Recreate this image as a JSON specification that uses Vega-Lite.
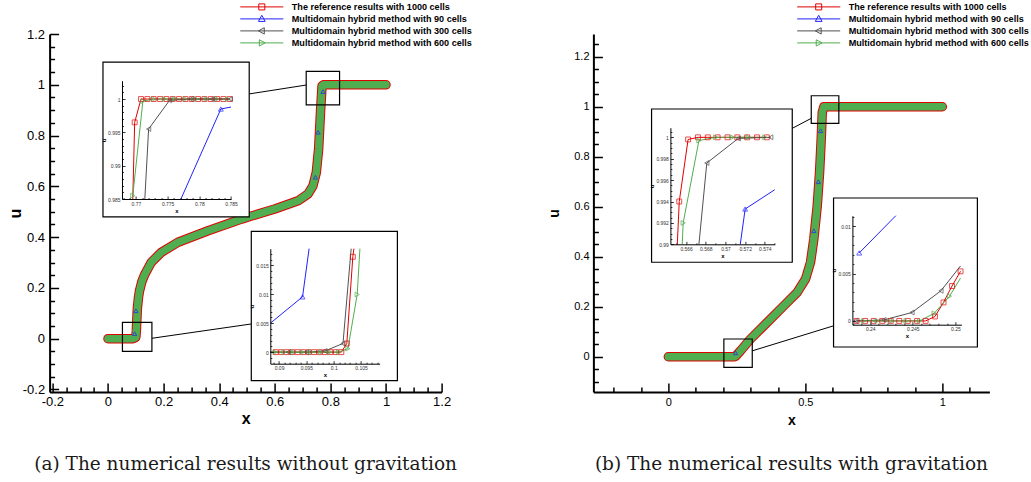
{
 "$schema": "https://vega.github.io/schema/vega-lite/v6.json",
 "padding": {"left": 6.6, "top": 1, "right": 0, "bottom": 0},
 "bounds": "flush",
 "spacing": 151.8,
 "resolve": {"scale": {"color": "independent", "shape": "independent"}},
 "config": {
  "view": {"stroke": null},
  "font": "Liberation Sans",
  "axis": {"grid": false, "domainColor": "black", "tickColor": "black", "labelColor": "black", "titleColor": "black", "labelFont": "Liberation Sans", "titleFont": "Liberation Sans"}
 },
 "datasets": {
  "mainA": [
   {"x": 0, "u": 0}, {"x": 0.05, "u": 0}, {"x": 0.09, "u": 0}, {"x": 0.1, "u": 0.005}, {"x": 0.102, "u": 0.03},
   {"x": 0.1055, "u": 0.117}, {"x": 0.11, "u": 0.165}, {"x": 0.1137, "u": 0.19}, {"x": 0.122, "u": 0.225},
   {"x": 0.1317, "u": 0.252}, {"x": 0.1558, "u": 0.301}, {"x": 0.1918, "u": 0.34}, {"x": 0.252, "u": 0.38},
   {"x": 0.36, "u": 0.425}, {"x": 0.48, "u": 0.471}, {"x": 0.6, "u": 0.511}, {"x": 0.6835, "u": 0.543},
   {"x": 0.7195, "u": 0.57}, {"x": 0.7375, "u": 0.6025}, {"x": 0.7494, "u": 0.655}, {"x": 0.7577, "u": 0.747},
   {"x": 0.765, "u": 0.905}, {"x": 0.77, "u": 0.996}, {"x": 0.775, "u": 1}, {"x": 0.9, "u": 1}, {"x": 1, "u": 1}
  ],
  "blueA": [
   {"x": 0.0958, "u": 0.02}, {"x": 0.1005, "u": 0.11}, {"x": 0.746, "u": 0.636}, {"x": 0.7555, "u": 0.813}, {"x": 0.7735, "u": 0.973}
  ],
  "boxesA": [
   {"x": 0.052, "x2": 0.158, "u": -0.05, "u2": 0.0645},
   {"x": 0.713, "x2": 0.833, "u": 0.921, "u2": 1.053}
  ],
  "linksA": [
   {"x": 0.508, "x2": 0.713, "u": 0.964, "u2": 0.999},
   {"x": 0.158, "x2": 0.5155, "u": 0.0016, "u2": 0.058}
  ],
  "framesA": [
   {"x": -0.018, "x2": 0.508, "u": 0.48, "u2": 1.089},
   {"x": 0.5155, "x2": 1.041, "u": -0.165, "u2": 0.423}
  ],
  "mainB": [
   {"x": 0, "u": 0}, {"x": 0.1, "u": 0}, {"x": 0.2, "u": 0}, {"x": 0.24, "u": 0}, {"x": 0.2454, "u": 0.002},
   {"x": 0.2636, "u": 0.024}, {"x": 0.2999, "u": 0.071}, {"x": 0.361, "u": 0.1376}, {"x": 0.4216, "u": 0.204},
   {"x": 0.4705, "u": 0.2576}, {"x": 0.5008, "u": 0.311}, {"x": 0.519, "u": 0.378}, {"x": 0.531, "u": 0.4708},
   {"x": 0.5435, "u": 0.604}, {"x": 0.552, "u": 0.7376}, {"x": 0.558, "u": 0.871}, {"x": 0.5618, "u": 0.9776},
   {"x": 0.5676, "u": 1.0}, {"x": 0.6, "u": 1}, {"x": 0.8, "u": 1}, {"x": 1, "u": 1}
  ],
  "blueB": [
   {"x": 0.2454, "u": 0.0156}, {"x": 0.531, "u": 0.504}, {"x": 0.5476, "u": 0.7}, {"x": 0.5556, "u": 0.904}
  ],
  "boxesB": [
   {"x": 0.2027, "x2": 0.3063, "u": -0.0424, "u2": 0.071},
   {"x": 0.5216, "x2": 0.6223, "u": 0.9336, "u2": 1.044}
  ],
  "linksB": [
   {"x": 0.4523, "x2": 0.5216, "u": 0.9136, "u2": 0.9536},
   {"x": 0.3063, "x2": 0.604, "u": 0.0236, "u2": 0.124}
  ],
  "framesB": [
   {"x": -0.0612, "x2": 0.4523, "u": 0.378, "u2": 0.991},
   {"x": 0.603, "x2": 1.128, "u": 0.039, "u2": 0.635}
  ],
  "LU": [
   {"s": "r1000", "x": 0.7695, "u": 0.985, "p": false}, {"s": "r1000", "x": 0.7698, "u": 0.9965, "p": true},
   {"s": "r1000", "x": 0.7708, "u": 1.0, "p": true}, {"s": "r1000", "x": 0.7718, "u": 1, "p": true},
   {"s": "r1000", "x": 0.7728, "u": 1, "p": true}, {"s": "r1000", "x": 0.7738, "u": 1, "p": true},
   {"s": "r1000", "x": 0.7748, "u": 1, "p": true}, {"s": "r1000", "x": 0.7758, "u": 1, "p": true},
   {"s": "r1000", "x": 0.7768, "u": 1, "p": true}, {"s": "r1000", "x": 0.7778, "u": 1, "p": true},
   {"s": "r1000", "x": 0.7788, "u": 1, "p": true}, {"s": "r1000", "x": 0.7798, "u": 1, "p": true},
   {"s": "r1000", "x": 0.7808, "u": 1, "p": true}, {"s": "r1000", "x": 0.7818, "u": 1, "p": true},
   {"s": "r1000", "x": 0.7828, "u": 1, "p": true}, {"s": "r1000", "x": 0.7838, "u": 1, "p": true},
   {"s": "r1000", "x": 0.7848, "u": 1, "p": true},
   {"s": "h600", "x": 0.7695, "u": 0.9855, "p": true}, {"s": "h600", "x": 0.7711, "u": 0.9997, "p": true},
   {"s": "h600", "x": 0.7728, "u": 1, "p": true}, {"s": "h600", "x": 0.7745, "u": 1, "p": true},
   {"s": "h600", "x": 0.7761, "u": 1, "p": true}, {"s": "h600", "x": 0.7778, "u": 1, "p": true},
   {"s": "h600", "x": 0.7795, "u": 1, "p": true}, {"s": "h600", "x": 0.7811, "u": 1, "p": true},
   {"s": "h600", "x": 0.7828, "u": 1, "p": true}, {"s": "h600", "x": 0.7845, "u": 1, "p": true},
   {"s": "h300", "x": 0.7714, "u": 0.985, "p": false}, {"s": "h300", "x": 0.772, "u": 0.9955, "p": true},
   {"s": "h300", "x": 0.7753, "u": 0.9998, "p": true}, {"s": "h300", "x": 0.7787, "u": 1, "p": true},
   {"s": "h300", "x": 0.782, "u": 1, "p": true}, {"s": "h300", "x": 0.7849, "u": 1, "p": true},
   {"s": "h90", "x": 0.7771, "u": 0.985, "p": false}, {"s": "h90", "x": 0.7834, "u": 0.9985, "p": true},
   {"s": "h90", "x": 0.785, "u": 0.9988, "p": false}
  ],
  "LL": [
   {"s": "h90", "x": 0.0884, "u": 0.005, "p": false}, {"s": "h90", "x": 0.0943, "u": 0.00957, "p": true},
   {"s": "h90", "x": 0.0955, "u": 0.0179, "p": false},
   {"s": "r1000", "x": 0.0884, "u": 0, "p": false}, {"s": "r1000", "x": 0.0894, "u": 0, "p": true},
   {"s": "r1000", "x": 0.0904, "u": 0, "p": true}, {"s": "r1000", "x": 0.0914, "u": 0, "p": true},
   {"s": "r1000", "x": 0.0924, "u": 0, "p": true}, {"s": "r1000", "x": 0.0934, "u": 0, "p": true},
   {"s": "r1000", "x": 0.0944, "u": 0, "p": true}, {"s": "r1000", "x": 0.0954, "u": 0, "p": true},
   {"s": "r1000", "x": 0.0964, "u": 0, "p": true}, {"s": "r1000", "x": 0.0974, "u": 0, "p": true},
   {"s": "r1000", "x": 0.0984, "u": 0, "p": true}, {"s": "r1000", "x": 0.0994, "u": 0, "p": true},
   {"s": "r1000", "x": 0.1004, "u": 0, "p": true}, {"s": "r1000", "x": 0.1014, "u": 0, "p": true},
   {"s": "r1000", "x": 0.1024, "u": 0.0015, "p": true}, {"s": "r1000", "x": 0.1035, "u": 0.0165, "p": true},
   {"s": "r1000", "x": 0.1037, "u": 0.0179, "p": false},
   {"s": "h300", "x": 0.0884, "u": 0, "p": false}, {"s": "h300", "x": 0.0917, "u": 0, "p": true},
   {"s": "h300", "x": 0.095, "u": 0, "p": true}, {"s": "h300", "x": 0.0984, "u": 0.0002, "p": true},
   {"s": "h300", "x": 0.1017, "u": 0.0015, "p": true}, {"s": "h300", "x": 0.1032, "u": 0.0179, "p": false},
   {"s": "h600", "x": 0.0884, "u": 0, "p": false}, {"s": "h600", "x": 0.0893, "u": 0, "p": true},
   {"s": "h600", "x": 0.0909, "u": 0, "p": true}, {"s": "h600", "x": 0.0926, "u": 0, "p": true},
   {"s": "h600", "x": 0.0943, "u": 0, "p": true}, {"s": "h600", "x": 0.0959, "u": 0, "p": true},
   {"s": "h600", "x": 0.0976, "u": 0, "p": true}, {"s": "h600", "x": 0.0993, "u": 0, "p": true},
   {"s": "h600", "x": 0.1009, "u": 0, "p": true}, {"s": "h600", "x": 0.1026, "u": 0.0006, "p": true},
   {"s": "h600", "x": 0.1043, "u": 0.00997, "p": true}, {"s": "h600", "x": 0.1048, "u": 0.0179, "p": false}
  ],
  "RU": [
   {"s": "r1000", "x": 0.5651, "u": 0.99, "p": false}, {"s": "r1000", "x": 0.5653, "u": 0.994, "p": true},
   {"s": "r1000", "x": 0.5662, "u": 0.9998, "p": true}, {"s": "r1000", "x": 0.5672, "u": 1, "p": true},
   {"s": "r1000", "x": 0.5682, "u": 1, "p": true}, {"s": "r1000", "x": 0.5692, "u": 1, "p": true},
   {"s": "r1000", "x": 0.5702, "u": 1, "p": true}, {"s": "r1000", "x": 0.5712, "u": 1, "p": true},
   {"s": "r1000", "x": 0.5722, "u": 1, "p": true}, {"s": "r1000", "x": 0.5732, "u": 1, "p": true},
   {"s": "r1000", "x": 0.5742, "u": 1, "p": true},
   {"s": "h600", "x": 0.5656, "u": 0.99, "p": false}, {"s": "h600", "x": 0.5657, "u": 0.992, "p": true},
   {"s": "h600", "x": 0.5673, "u": 0.9997, "p": true}, {"s": "h600", "x": 0.569, "u": 1, "p": true},
   {"s": "h600", "x": 0.5707, "u": 1, "p": true}, {"s": "h600", "x": 0.5723, "u": 1, "p": true},
   {"s": "h600", "x": 0.574, "u": 1, "p": true},
   {"s": "h300", "x": 0.5673, "u": 0.99, "p": false}, {"s": "h300", "x": 0.5681, "u": 0.9976, "p": true},
   {"s": "h300", "x": 0.5713, "u": 0.9999, "p": true}, {"s": "h300", "x": 0.5746, "u": 1, "p": true},
   {"s": "h90", "x": 0.5715, "u": 0.99, "p": false}, {"s": "h90", "x": 0.572, "u": 0.9933, "p": true},
   {"s": "h90", "x": 0.575, "u": 0.9951, "p": false}
  ],
  "RL": [
   {"s": "h90", "x": 0.2387, "u": 0.00717, "p": true}, {"s": "h90", "x": 0.243, "u": 0.0111, "p": false},
   {"s": "r1000", "x": 0.2384, "u": 0, "p": true}, {"s": "r1000", "x": 0.2394, "u": 0, "p": true},
   {"s": "r1000", "x": 0.2404, "u": 0, "p": true}, {"s": "r1000", "x": 0.2414, "u": 0, "p": true},
   {"s": "r1000", "x": 0.2424, "u": 0, "p": true}, {"s": "r1000", "x": 0.2434, "u": 0, "p": true},
   {"s": "r1000", "x": 0.2444, "u": 0, "p": true}, {"s": "r1000", "x": 0.2455, "u": 0, "p": true},
   {"s": "r1000", "x": 0.2465, "u": 0, "p": true}, {"s": "r1000", "x": 0.2476, "u": 0.00047, "p": true},
   {"s": "r1000", "x": 0.2486, "u": 0.00195, "p": true}, {"s": "r1000", "x": 0.2496, "u": 0.00368, "p": true},
   {"s": "r1000", "x": 0.2506, "u": 0.00523, "p": true},
   {"s": "h300", "x": 0.2383, "u": 0, "p": true}, {"s": "h300", "x": 0.2416, "u": 0.0001, "p": true},
   {"s": "h300", "x": 0.2449, "u": 0.00089, "p": true}, {"s": "h300", "x": 0.2483, "u": 0.00318, "p": true},
   {"s": "h300", "x": 0.2506, "u": 0.0058, "p": false},
   {"s": "h600", "x": 0.2392, "u": 0, "p": true}, {"s": "h600", "x": 0.2408, "u": 0, "p": true},
   {"s": "h600", "x": 0.2425, "u": 0, "p": true}, {"s": "h600", "x": 0.2442, "u": 0, "p": true},
   {"s": "h600", "x": 0.2458, "u": 0, "p": true}, {"s": "h600", "x": 0.2475, "u": 0.0008, "p": true},
   {"s": "h600", "x": 0.2493, "u": 0.0026, "p": true}, {"s": "h600", "x": 0.2506, "u": 0.00452, "p": false}
  ],
  "series": [{"s": "r1000"}, {"s": "h90"}, {"s": "h300"}, {"s": "h600"}]
 },
 "hconcat": [
  {
   "width": 392,
   "height": 358,
   "title": {"text": "(a) The numerical results without gravitation", "orient": "bottom", "anchor": "middle", "frame": "group", "font": "DejaVu Serif", "fontSize": 18.5, "fontWeight": "normal", "color": "#1a1a1a", "offset": 28},
   "resolve": {"scale": {"x": "independent", "y": "independent", "color": "independent", "shape": "independent"}},
   "layer": [
    {
     "resolve": {"axis": {"x": "independent", "y": "independent"}},
     "layer": [
      {"data": {"name": "mainA"}, "mark": {"type": "line", "color": "#e00000", "strokeWidth": 9.5, "strokeCap": "round", "strokeJoin": "round"},
       "encoding": {
        "x": {"field": "x", "type": "quantitative", "scale": {"domain": [-0.21, 1.2], "nice": false, "zero": false},
         "axis": {"orient": "bottom", "values": [-0.2,0,0.2,0.4,0.6,0.8,1,1.2], "labelExpr": "toString(round(datum.value*10)/10)",
          "tickSize": -9, "labelFontSize": 13, "labelPadding": 13, "labelFlush": false, "labelOverlap": false, "labelBound": false,
          "title": "x", "titleFontSize": 16, "titleFontWeight": "bold", "titlePadding": 2, "domainWidth": 2, "tickWidth": 1.5}},
        "y": {"field": "u", "type": "quantitative", "scale": {"domain": [-0.21, 1.2], "nice": false, "zero": false},
         "axis": {"orient": "left", "values": [-0.2,0,0.2,0.4,0.6,0.8,1,1.2], "labelExpr": "toString(round(datum.value*10)/10)",
          "tickSize": -9, "labelFontSize": 13, "labelPadding": 14, "labelFlush": false, "labelOverlap": false, "labelBound": false,
          "title": "u", "titleFontSize": 16, "titleFontWeight": "bold", "titlePadding": -1.2, "domainWidth": 2, "tickWidth": 1.5}}
       }},
      {"data": {"name": "mainA"}, "mark": {"type": "line", "color": "#50ad50", "strokeWidth": 7.5, "strokeCap": "round", "strokeJoin": "round"},
       "encoding": {
        "x": {"field": "x", "type": "quantitative", "axis": {"orient": "bottom", "values": [-0.15,-0.1,-0.05,0.05,0.1,0.15,0.25,0.3,0.35,0.45,0.5,0.55,0.65,0.7,0.75,0.85,0.9,0.95,1.05,1.1,1.15], "labels": false, "domain": false, "tickSize": -5, "tickWidth": 1.5, "title": null}},
        "y": {"field": "u", "type": "quantitative", "axis": {"orient": "left", "values": [-0.15,-0.1,-0.05,0.05,0.1,0.15,0.25,0.3,0.35,0.45,0.5,0.55,0.65,0.7,0.75,0.85,0.9,0.95,1.05,1.1,1.15], "labels": false, "domain": false, "tickSize": -5, "tickWidth": 1.5, "title": null}}
       }},
      {"data": {"name": "blueA"}, "mark": {"type": "point", "shape": "triangle-up", "color": "#2020ff", "size": 18, "filled": false, "strokeWidth": 1},
       "encoding": {"x": {"field": "x", "type": "quantitative", "axis": null}, "y": {"field": "u", "type": "quantitative", "axis": null}}},
      {"data": {"name": "boxesA"}, "mark": {"type": "rect", "fill": "white", "fillOpacity": 0, "stroke": "black", "strokeWidth": 1.2},
       "encoding": {"x": {"field": "x", "type": "quantitative", "axis": null}, "x2": {"field": "x2"}, "y": {"field": "u", "type": "quantitative", "axis": null}, "y2": {"field": "u2"}}},
      {"data": {"name": "linksA"}, "mark": {"type": "rule", "color": "black", "strokeWidth": 1},
       "encoding": {"x": {"field": "x", "type": "quantitative", "axis": null}, "x2": {"field": "x2"}, "y": {"field": "u", "type": "quantitative", "axis": null}, "y2": {"field": "u2"}}},
      {"data": {"name": "framesA"}, "mark": {"type": "rect", "fill": "white", "stroke": "black", "strokeWidth": 1.2},
       "encoding": {"x": {"field": "x", "type": "quantitative", "axis": null}, "x2": {"field": "x2"}, "y": {"field": "u", "type": "quantitative", "axis": null}, "y2": {"field": "u2"}}}
     ]
    },
    {
     "data": {"name": "LU"},
     "resolve": {"axis": {"x": "independent", "y": "independent"}},
     "layer": [
      {"mark": {"type": "line", "strokeWidth": 1},
       "encoding": {
        "x": {"field": "x", "type": "quantitative", "scale": {"domain": [0.7678, 0.785], "range": [72.4, 181.4], "nice": false, "zero": false},
         "axis": {"orient": "bottom", "offset": -193, "values": [0.77,0.775,0.78,0.785], "labelExpr": "toString(round(datum.value*1000)/1000)",
          "tickSize": -3, "labelFontSize": 5, "labelPadding": 5, "labelFlush": false, "labelOverlap": false, "labelColor": "#333333",
          "title": "x", "titleFontSize": 6, "titlePadding": 1, "zindex": 1, "domainWidth": 1, "tickWidth": 0.8}},
        "y": {"field": "u", "type": "quantitative", "scale": {"domain": [0.985, 1.00275], "range": [165, 46.7], "nice": false, "zero": false},
         "axis": {"orient": "left", "offset": -72.4, "values": [0.985,0.99,0.995,1], "labelExpr": "toString(round(datum.value*1000)/1000)",
          "tickSize": -3, "labelFontSize": 5, "labelPadding": 5, "labelFlush": false, "labelOverlap": false, "labelColor": "#333333",
          "title": "u", "titleFontSize": 6, "titlePadding": 1, "zindex": 1, "domainWidth": 1, "tickWidth": 0.8}},
        "color": {"field": "s", "type": "nominal", "scale": {"domain": ["r1000", "h90", "h300", "h600"], "range": ["#e00000", "#2020ff", "#505050", "#50ad50"]}, "legend": null}
       }},
      {"transform": [{"filter": "datum.p"}],
       "mark": {"type": "point", "filled": false, "size": 24, "strokeWidth": 1},
       "encoding": {
        "x": {"field": "x", "type": "quantitative", "axis": {"orient": "bottom", "offset": -193, "values": [0.768,0.769,0.771,0.772,0.773,0.774,0.776,0.777,0.778,0.779,0.781,0.782,0.783,0.784], "labels": false, "domain": false, "tickSize": -1.5, "tickWidth": 0.8, "title": null, "zindex": 1}},
        "y": {"field": "u", "type": "quantitative", "axis": {"orient": "left", "offset": -72.4, "values": [0.986,0.987,0.988,0.989,0.991,0.992,0.993,0.994,0.996,0.997,0.998,0.999,1.001,1.002], "labels": false, "domain": false, "tickSize": -1.5, "tickWidth": 0.8, "title": null, "zindex": 1}},
        "color": {"field": "s", "type": "nominal", "legend": null},
        "shape": {"field": "s", "type": "nominal", "scale": {"domain": ["r1000", "h90", "h300", "h600"], "range": ["square", "triangle-up", "triangle-left", "triangle-right"]}, "legend": null}
       }}
     ]
    },
    {
     "data": {"name": "LL"},
     "resolve": {"axis": {"x": "independent", "y": "independent"}},
     "layer": [
      {"mark": {"type": "line", "strokeWidth": 1},
       "encoding": {
        "x": {"field": "x", "type": "quantitative", "scale": {"domain": [0.0884, 0.1084], "range": [220.7, 330], "nice": false, "zero": false},
         "axis": {"orient": "bottom", "offset": -28.3, "values": [0.09,0.095,0.1,0.105], "labelExpr": "toString(round(datum.value*1000)/1000)",
          "tickSize": -3, "labelFontSize": 5, "labelPadding": 5, "labelFlush": false, "labelOverlap": false, "labelColor": "#333333",
          "title": "x", "titleFontSize": 6, "titlePadding": 1, "zindex": 1, "domainWidth": 1, "tickWidth": 0.8}},
        "y": {"field": "u", "type": "quantitative", "scale": {"domain": [-0.002, 0.0179], "range": [329.7, 214.7], "nice": false, "zero": false},
         "axis": {"orient": "left", "offset": -220.7, "values": [0,0.005,0.01,0.015], "labelExpr": "toString(round(datum.value*1000)/1000)",
          "tickSize": -3, "labelFontSize": 5, "labelPadding": 5, "labelFlush": false, "labelOverlap": false, "labelColor": "#333333",
          "title": "u", "titleFontSize": 6, "titlePadding": 1, "zindex": 1, "domainWidth": 1, "tickWidth": 0.8}},
        "color": {"field": "s", "type": "nominal", "scale": {"domain": ["r1000", "h90", "h300", "h600"], "range": ["#e00000", "#2020ff", "#505050", "#50ad50"]}, "legend": null}
       }},
      {"transform": [{"filter": "datum.p"}],
       "mark": {"type": "point", "filled": false, "size": 24, "strokeWidth": 1},
       "encoding": {
        "x": {"field": "x", "type": "quantitative", "axis": {"orient": "bottom", "offset": -28.3, "values": [0.089,0.091,0.092,0.093,0.094,0.096,0.097,0.098,0.099,0.101,0.102,0.103,0.104,0.106,0.107,0.108], "labels": false, "domain": false, "tickSize": -1.5, "tickWidth": 0.8, "title": null, "zindex": 1}},
        "y": {"field": "u", "type": "quantitative", "axis": {"orient": "left", "offset": -220.7, "values": [-0.001,0.001,0.002,0.003,0.004,0.006,0.007,0.008,0.009,0.011,0.012,0.013,0.014,0.016,0.017], "labels": false, "domain": false, "tickSize": -1.5, "tickWidth": 0.8, "title": null, "zindex": 1}},
        "color": {"field": "s", "type": "nominal", "legend": null},
        "shape": {"field": "s", "type": "nominal", "scale": {"domain": ["r1000", "h90", "h300", "h600"], "range": ["square", "triangle-up", "triangle-left", "triangle-right"]}, "legend": null}
       }}
     ]
    },
    {
     "data": {"name": "series"},
     "mark": {"type": "point", "filled": false, "opacity": 0},
     "encoding": {
      "color": {"field": "s", "type": "nominal", "scale": {"domain": ["r1000", "h90", "h300", "h600"], "range": ["#e00000", "#2020ff", "#505050", "#50ad50"]},
       "legend": {"orient": "none", "legendX": 207.2, "legendY": -32.1, "title": null, "labelExpr": "datum.value=='r1000' ? 'The reference results with 1000 cells' : datum.value=='h90' ? 'Multidomain hybrid method with 90 cells' : datum.value=='h300' ? 'Multidomain hybrid method with 300 cells' : 'Multidomain hybrid method with 600 cells'", "labelFont": "Liberation Sans", "labelFontSize": 9.1, "labelFontWeight": "bold", "labelColor": "black", "labelLimit": 400, "labelOffset": 25, "symbolSize": 81, "symbolStrokeWidth": 1, "symbolOpacity": 1, "rowPadding": 0, "padding": 0}},
      "shape": {"field": "s", "type": "nominal", "scale": {"domain": ["r1000", "h90", "h300", "h600"], "range": ["M-4.78,0H4.78M-0.67,-0.67H0.67V0.67H-0.67Z", "M-4.78,0H4.78M0,-0.8L0.75,0.55H-0.75Z", "M-4.78,0H4.78M-0.75,0L0.55,-0.7V0.7Z", "M-4.78,0H4.78M0.75,0L-0.55,-0.7V0.7Z"]},
       "legend": {"orient": "none", "legendX": 207.2, "legendY": -32.1, "title": null, "labelExpr": "datum.value=='r1000' ? 'The reference results with 1000 cells' : datum.value=='h90' ? 'Multidomain hybrid method with 90 cells' : datum.value=='h300' ? 'Multidomain hybrid method with 300 cells' : 'Multidomain hybrid method with 600 cells'", "labelFont": "Liberation Sans", "labelFontSize": 9.1, "labelFontWeight": "bold", "labelColor": "black", "labelLimit": 400, "labelOffset": 25, "symbolSize": 81, "symbolStrokeWidth": 1, "symbolOpacity": 1, "rowPadding": 0, "padding": 0}}
     }
    }
   ]
  },
  {
   "width": 396,
   "height": 358,
   "title": {"text": "(b) The numerical results with gravitation", "orient": "bottom", "anchor": "middle", "frame": "group", "font": "DejaVu Serif", "fontSize": 18.5, "fontWeight": "normal", "color": "#1a1a1a", "offset": 28},
   "resolve": {"scale": {"x": "independent", "y": "independent", "color": "independent", "shape": "independent"}},
   "layer": [
    {
     "resolve": {"axis": {"x": "independent", "y": "independent"}},
     "layer": [
      {"data": {"name": "mainB"}, "mark": {"type": "line", "color": "#e00000", "strokeWidth": 9.5, "strokeCap": "round", "strokeJoin": "round"},
       "encoding": {
        "x": {"field": "x", "type": "quantitative", "scale": {"domain": [-0.2735, 1.1718], "nice": false, "zero": false},
         "axis": {"orient": "bottom", "values": [0,0.5,1], "labelExpr": "toString(round(datum.value*10)/10)",
          "tickSize": -9, "labelFontSize": 11, "labelPadding": 13.5, "labelFlush": false, "labelOverlap": false, "labelBound": false,
          "title": "x", "titleFontSize": 14, "titleFontWeight": "bold", "titlePadding": 6, "domainWidth": 2, "tickWidth": 1.5}},
        "y": {"field": "u", "type": "quantitative", "scale": {"domain": [-0.141, 1.291], "nice": false, "zero": false},
         "axis": {"orient": "left", "values": [0,0.2,0.4,0.6,0.8,1,1.2], "labelExpr": "toString(round(datum.value*10)/10)",
          "tickSize": -9, "labelFontSize": 11, "labelPadding": 13.4, "labelFlush": false, "labelOverlap": false, "labelBound": false,
          "title": "u", "titleFontSize": 14, "titleFontWeight": "bold", "titlePadding": 11.8, "domainWidth": 2, "tickWidth": 1.5}}
       }},
      {"data": {"name": "mainB"}, "mark": {"type": "line", "color": "#50ad50", "strokeWidth": 7.5, "strokeCap": "round", "strokeJoin": "round"},
       "encoding": {
        "x": {"field": "x", "type": "quantitative", "axis": {"orient": "bottom", "values": [-0.2,-0.1,0.1,0.2,0.3,0.4,0.6,0.7,0.8,0.9,1.1], "labels": false, "domain": false, "tickSize": -5, "tickWidth": 1.5, "title": null}},
        "y": {"field": "u", "type": "quantitative", "axis": {"orient": "left", "values": [-0.1,-0.05,0.05,0.1,0.15,0.25,0.3,0.35,0.45,0.5,0.55,0.65,0.7,0.75,0.85,0.9,0.95,1.05,1.1,1.15,1.25], "labels": false, "domain": false, "tickSize": -5, "tickWidth": 1.5, "title": null}}
       }},
      {"data": {"name": "blueB"}, "mark": {"type": "point", "shape": "triangle-up", "color": "#2020ff", "size": 18, "filled": false, "strokeWidth": 1},
       "encoding": {"x": {"field": "x", "type": "quantitative", "axis": null}, "y": {"field": "u", "type": "quantitative", "axis": null}}},
      {"data": {"name": "boxesB"}, "mark": {"type": "rect", "fill": "white", "fillOpacity": 0, "stroke": "black", "strokeWidth": 1.2},
       "encoding": {"x": {"field": "x", "type": "quantitative", "axis": null}, "x2": {"field": "x2"}, "y": {"field": "u", "type": "quantitative", "axis": null}, "y2": {"field": "u2"}}},
      {"data": {"name": "linksB"}, "mark": {"type": "rule", "color": "black", "strokeWidth": 1},
       "encoding": {"x": {"field": "x", "type": "quantitative", "axis": null}, "x2": {"field": "x2"}, "y": {"field": "u", "type": "quantitative", "axis": null}, "y2": {"field": "u2"}}},
      {"data": {"name": "framesB"}, "mark": {"type": "rect", "fill": "white", "stroke": "black", "strokeWidth": 1.2},
       "encoding": {"x": {"field": "x", "type": "quantitative", "axis": null}, "x2": {"field": "x2"}, "y": {"field": "u", "type": "quantitative", "axis": null}, "y2": {"field": "u2"}}}
     ]
    },
    {
     "data": {"name": "RU"},
     "resolve": {"axis": {"x": "independent", "y": "independent"}},
     "layer": [
      {"mark": {"type": "line", "strokeWidth": 1},
       "encoding": {
        "x": {"field": "x", "type": "quantitative", "scale": {"domain": [0.5644, 0.575], "range": [77, 181.3], "nice": false, "zero": false},
         "axis": {"orient": "bottom", "offset": -147.7, "values": [0.566,0.568,0.57,0.572,0.574], "labelExpr": "toString(round(datum.value*1000)/1000)",
          "tickSize": -3, "labelFontSize": 5, "labelPadding": 5, "labelFlush": false, "labelOverlap": false, "labelColor": "#333333",
          "title": "x", "titleFontSize": 6, "titlePadding": 1, "zindex": 1, "domainWidth": 1, "tickWidth": 0.8}},
        "y": {"field": "u", "type": "quantitative", "scale": {"domain": [0.99, 1.0009], "range": [210.3, 93.7], "nice": false, "zero": false},
         "axis": {"orient": "left", "offset": -77, "values": [0.99,0.992,0.994,0.996,0.998,1], "labelExpr": "toString(round(datum.value*1000)/1000)",
          "tickSize": -3, "labelFontSize": 5, "labelPadding": 5, "labelFlush": false, "labelOverlap": false, "labelColor": "#333333",
          "title": "u", "titleFontSize": 6, "titlePadding": 1, "zindex": 1, "domainWidth": 1, "tickWidth": 0.8}},
        "color": {"field": "s", "type": "nominal", "scale": {"domain": ["r1000", "h90", "h300", "h600"], "range": ["#e00000", "#2020ff", "#505050", "#50ad50"]}, "legend": null}
       }},
      {"transform": [{"filter": "datum.p"}],
       "mark": {"type": "point", "filled": false, "size": 24, "strokeWidth": 1},
       "encoding": {
        "x": {"field": "x", "type": "quantitative", "axis": {"orient": "bottom", "offset": -147.7, "values": [0.565,0.567,0.569,0.571,0.573,0.575], "labels": false, "domain": false, "tickSize": -1.5, "tickWidth": 0.8, "title": null, "zindex": 1}},
        "y": {"field": "u", "type": "quantitative", "axis": {"orient": "left", "offset": -77, "values": [0.9905,0.991,0.9915,0.9925,0.993,0.9935,0.9945,0.995,0.9955,0.9965,0.997,0.9975,0.9985,0.999,0.9995,1.0005], "labels": false, "domain": false, "tickSize": -1.5, "tickWidth": 0.8, "title": null, "zindex": 1}},
        "color": {"field": "s", "type": "nominal", "legend": null},
        "shape": {"field": "s", "type": "nominal", "scale": {"domain": ["r1000", "h90", "h300", "h600"], "range": ["square", "triangle-up", "triangle-left", "triangle-right"]}, "legend": null}
       }}
     ]
    },
    {
     "data": {"name": "RL"},
     "resolve": {"axis": {"x": "independent", "y": "independent"}},
     "layer": [
      {"mark": {"type": "line", "strokeWidth": 1},
       "encoding": {
        "x": {"field": "x", "type": "quantitative", "scale": {"domain": [0.2379, 0.2507], "range": [259, 368], "nice": false, "zero": false},
         "axis": {"orient": "bottom", "offset": -67.3, "values": [0.24,0.245,0.25], "labelExpr": "toString(round(datum.value*1000)/1000)",
          "tickSize": -3, "labelFontSize": 5, "labelPadding": 5, "labelFlush": false, "labelOverlap": false, "labelColor": "#333333",
          "title": "x", "titleFontSize": 6, "titlePadding": 1, "zindex": 1, "domainWidth": 1, "tickWidth": 0.8}},
        "y": {"field": "u", "type": "quantitative", "scale": {"domain": [-0.0004, 0.0111], "range": [290.7, 181.7], "nice": false, "zero": false},
         "axis": {"orient": "left", "offset": -259, "values": [0,0.005,0.01], "labelExpr": "toString(round(datum.value*1000)/1000)",
          "tickSize": -3, "labelFontSize": 5, "labelPadding": 5, "labelFlush": false, "labelOverlap": false, "labelColor": "#333333",
          "title": "u", "titleFontSize": 6, "titlePadding": 1, "zindex": 1, "domainWidth": 1, "tickWidth": 0.8}},
        "color": {"field": "s", "type": "nominal", "scale": {"domain": ["r1000", "h90", "h300", "h600"], "range": ["#e00000", "#2020ff", "#505050", "#50ad50"]}, "legend": null}
       }},
      {"transform": [{"filter": "datum.p"}],
       "mark": {"type": "point", "filled": false, "size": 24, "strokeWidth": 1},
       "encoding": {
        "x": {"field": "x", "type": "quantitative", "axis": {"orient": "bottom", "offset": -67.3, "values": [0.238,0.239,0.241,0.242,0.243,0.244,0.246,0.247,0.248,0.249], "labels": false, "domain": false, "tickSize": -1.5, "tickWidth": 0.8, "title": null, "zindex": 1}},
        "y": {"field": "u", "type": "quantitative", "axis": {"orient": "left", "offset": -259, "values": [0.001,0.002,0.003,0.004,0.006,0.007,0.008,0.009,0.011], "labels": false, "domain": false, "tickSize": -1.5, "tickWidth": 0.8, "title": null, "zindex": 1}},
        "color": {"field": "s", "type": "nominal", "legend": null},
        "shape": {"field": "s", "type": "nominal", "scale": {"domain": ["r1000", "h90", "h300", "h600"], "range": ["square", "triangle-up", "triangle-left", "triangle-right"]}, "legend": null}
       }}
     ]
    },
    {
     "data": {"name": "series"},
     "mark": {"type": "point", "filled": false, "opacity": 0},
     "encoding": {
      "color": {"field": "s", "type": "nominal", "scale": {"domain": ["r1000", "h90", "h300", "h600"], "range": ["#e00000", "#2020ff", "#505050", "#50ad50"]},
       "legend": {"orient": "none", "legendX": 220.3, "legendY": -32.1, "title": null, "labelExpr": "datum.value=='r1000' ? 'The reference results with 1000 cells' : datum.value=='h90' ? 'Multidomain hybrid method with 90 cells' : datum.value=='h300' ? 'Multidomain hybrid method with 300 cells' : 'Multidomain hybrid method with 600 cells'", "labelFont": "Liberation Sans", "labelFontSize": 9.1, "labelFontWeight": "bold", "labelColor": "black", "labelLimit": 400, "labelOffset": 25, "symbolSize": 81, "symbolStrokeWidth": 1, "symbolOpacity": 1, "rowPadding": 0, "padding": 0}},
      "shape": {"field": "s", "type": "nominal", "scale": {"domain": ["r1000", "h90", "h300", "h600"], "range": ["M-4.78,0H4.78M-0.67,-0.67H0.67V0.67H-0.67Z", "M-4.78,0H4.78M0,-0.8L0.75,0.55H-0.75Z", "M-4.78,0H4.78M-0.75,0L0.55,-0.7V0.7Z", "M-4.78,0H4.78M0.75,0L-0.55,-0.7V0.7Z"]},
       "legend": {"orient": "none", "legendX": 220.3, "legendY": -32.1, "title": null, "labelExpr": "datum.value=='r1000' ? 'The reference results with 1000 cells' : datum.value=='h90' ? 'Multidomain hybrid method with 90 cells' : datum.value=='h300' ? 'Multidomain hybrid method with 300 cells' : 'Multidomain hybrid method with 600 cells'", "labelFont": "Liberation Sans", "labelFontSize": 9.1, "labelFontWeight": "bold", "labelColor": "black", "labelLimit": 400, "labelOffset": 25, "symbolSize": 81, "symbolStrokeWidth": 1, "symbolOpacity": 1, "rowPadding": 0, "padding": 0}}
     }
    }
   ]
  }
 ]
}
